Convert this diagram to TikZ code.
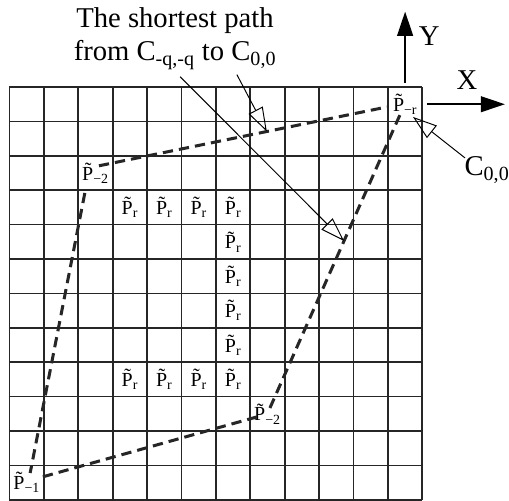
\documentclass[tikz,border=0pt]{standalone}
\usepackage{fontspec}
\setmainfont{Liberation Serif}
\usetikzlibrary{arrows.meta}
\newcommand{\tP}[1]{\~{P}\textsubscript{#1}}
\tikzset{
  gridline/.style={line width=1.4pt, black!85},
  boundary/.style={line width=2.5pt, dash pattern=on 8.5pt off 5pt, black!85},
  cell/.style={inner sep=0pt, font=\fontsize{16.5}{18}\selectfont},
  openarrow/.style={-{Triangle[open, length=0.7cm, width=0.46cm]}, line width=0.8pt},
  axisarrow/.style={-{Triangle[length=0.7cm, width=0.46cm]}, line width=1.3pt},
  bigtext/.style={font=\fontsize{23.7}{27.3}\selectfont, inner sep=0pt}
}

\begin{document}
\begin{tikzpicture}
  \useasboundingbox (-0.276,-0.03) rectangle (14.52,14.53);

  % grid of cells
  \draw[gridline] (0,0) grid (12,12);

  % corner labels
  \node[cell] (pmr) at (11.5,11.5) {\tP{−r}};
  \node[cell] (pa) at (2.5,9.5) {\tP{−2}};
  \node[cell] (pb) at (7.5,2.5) {\tP{−2}};
  \node[cell] (pm1) at (0.5,0.5) {\tP{−1}};

  % ring of P_r
  \foreach \i in {3,...,6} {
    \node[cell] (prt\i) at (\i.5,8.5) {\tP{r}};
    \node[cell] (prb\i) at (\i.5,3.5) {\tP{r}};
  }
  \foreach \j in {4,...,7}
    \node[cell] (prc\j) at (6.5,\j.5) {\tP{r}};

  % dashed boundary
  \draw[boundary] ([shift={(0.10,0.21)}]pa.center) -- coordinate[pos=0.583] (hitA) ([shift={(-0.53,-0.08)}]pmr.center);
  \draw[boundary] ([shift={(-0.31,-0.58)}]pa.center) -- ([shift={(0.10,0.28)}]pm1.center);
  \draw[boundary] ([shift={(0.47,0.17)}]pm1.center) -- ([shift={(-0.31,-0.09)}]pb.center);
  \draw[boundary] ([shift={(0.07,0.17)}]pb.center) -- coordinate[pos=0.57] (hitB) ([shift={(-0.15,-0.31)}]pmr.center);

  % axes
  \coordinate (ybot) at (11.5,12.12);
  \coordinate (ytop) at (11.5,14.19);
  \coordinate (xleft) at (12.14,11.5);
  \coordinate (xright) at (14.4,11.5);
  \draw[axisarrow] (ybot) -- (ytop);
  \draw[axisarrow] (xleft) -- (xright);
  \node[bigtext] (ylab) at (12.2,13.49) {Y};
  \node[bigtext] (xlab) at (13.30,12.21) {X};

  % annotations
  \node[bigtext, align=center] (title) at (4.81,13.40) {The shortest path\\from C\textsubscript{-q,-q} to C\textsubscript{0,0}};
  \coordinate (fromB) at (4.96,12.30);
  \coordinate (fromA) at (6.61,12.36);
  \draw[openarrow] (fromB) -- (hitB);
  \draw[openarrow] (fromA) -- (hitA);

  \node[bigtext] (c00) at (13.88,9.59) {C\textsubscript{0,0}};
  \coordinate (fromC) at (13.24,9.94);
  \coordinate (tipC) at (11.73,11.13);
  \draw[openarrow] (fromC) -- (tipC);
\end{tikzpicture}
\end{document}
